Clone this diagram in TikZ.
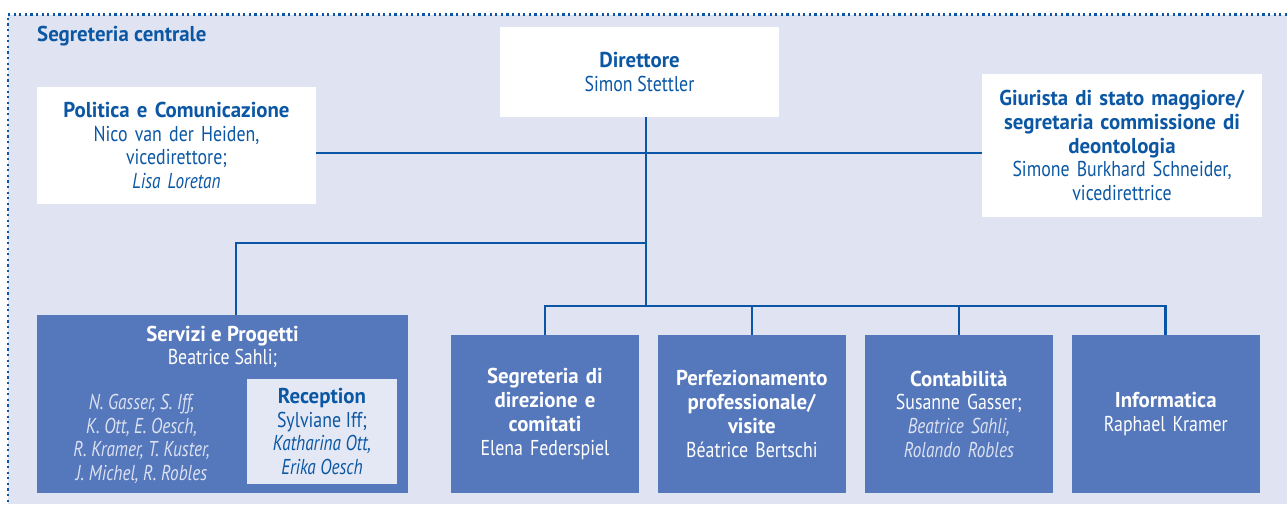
\documentclass[tikz,border=0pt]{standalone}
\usepackage{fontspec}
\setmainfont{PT Sans}[
	FakeStretch=0.83,
	BoldFeatures={FakeStretch=0.97},
	ItalicFeatures={FakeStretch=0.8},
]
\usepackage{tikz}
\usetikzlibrary{
	calc,
	positioning,
}
\definecolor{bgcol}{HTML}{E0E4F2}
\definecolor{boxcol}{HTML}{5577BB}
\definecolor{bluecol}{HTML}{0B57A4}
\definecolor{linecol}{HTML}{0A55A5}
\definecolor{palecol}{HTML}{DCE2F2}
\definecolor{reccol}{HTML}{E4E8F4}
\tikzset{
	white box/.style={
		fill=white,
		text=bluecol,
		align=center,
		inner sep=0pt,
	},
	dark box/.style={
		fill=boxcol,
		text=white,
		align=center,
		inner sep=0pt,
		minimum width=188pt,
		minimum height=158pt,
		text width=186pt,
	},
	link/.style={
		draw=linecol,
		line width=2.5pt,
	},
}

\begin{document}
\begin{tikzpicture}[x=1pt, y=-1pt, font=\fontsize{21.5}{23.7}\selectfont]
\useasboundingbox (0,0) rectangle (1287,504);
\fill[bgcol] (8,14.5) rectangle (1287,504);
\draw[linecol, line width=2.2pt, dash pattern=on 2.2pt off 3.4pt] (1287,14.5) -- (8,14.5) -- (8,504);

\node[anchor=west, text=bluecol, inner sep=0pt] (sc) at (37,36) {\textbf{Segreteria centrale}};

% top row
\node[white box, minimum width=279pt, minimum height=90pt] (dir) at (639.5,72)
	{\textbf{Direttore}\\Simon Stettler};
\node[white box, minimum width=279pt, minimum height=117pt, text width=276pt] (pol) at (176.5,145.5)
	{\textbf{Politica e Comunicazione}\\Nico van der Heiden,\\vicedirettore;\\\textit{Lisa Loretan}};
\node[white box, minimum width=280pt, minimum height=143pt, text width=276pt] (giu) at (1122,145.5)
	{\textbf{Giurista di stato maggiore/}\\\textbf{segretaria commissione di}\\\textbf{deontologia}\\Simone Burkhard Schneider,\\vicedirettrice};

% Servizi e Progetti
\node[dark box, minimum width=371pt, minimum height=178pt] (serv) at (222.5,404) {};
\node[text=white, align=center, inner sep=0pt] (servt) at (222.5,347)
	{\textbf{Servizi e Progetti}\\Beatrice Sahli;};
\node[text=palecol, align=center, inner sep=0pt] (servn) at (141.5,439)
	{\itshape N. Gasser, S. Iff,\\\itshape K. Ott, E. Oesch,\\\itshape R. Kramer, T. Kuster,\\\itshape J. Michel, R. Robles};
\node[fill=reccol, text=bluecol, align=center, inner sep=0pt, minimum width=150pt, minimum height=105pt] (rec) at (322,431.5)
	{\textbf{Reception}\\Sylviane Iff;\\\textit{Katharina Ott,}\\\textit{Erika Oesch}};

% bottom row
\node[dark box] (seg) at (545,414)
	{\textbf{Segreteria di}\\\textbf{direzione e}\\\textbf{comitati}\\Elena Federspiel};
\node[dark box, right=18.5pt of seg] (perf)
	{\textbf{Perfezionamento}\\\textbf{professionale/}\\\textbf{visite}\\Béatrice Bertschi};
\node[dark box, right=18.5pt of perf] (cont)
	{\textbf{Contabilità}\\Susanne Gasser;\\\color{palecol}\textit{Beatrice Sahli,}\\\color{palecol}\textit{Rolando Robles}};
\node[dark box, right=18.5pt of cont] (info)
	{\textbf{Informatica}\\Raphael Kramer};

% connectors
\coordinate (hbar) at (646,153);
\coordinate (midbus) at (646,243);
\coordinate (lowbus) at (646,306);
\draw[link] (pol.east |- hbar) -- (giu.west |- hbar);
\draw[link] (dir.south -| lowbus) -- (lowbus);
\draw[link] (midbus) -| (serv.north -| 236,0);
\draw[link] (seg.north) |- (lowbus) -| (info.north);
\draw[link] (perf.north) -- (perf.north |- lowbus);
\draw[link] (cont.north) -- (cont.north |- lowbus);
\end{tikzpicture}
\end{document}
